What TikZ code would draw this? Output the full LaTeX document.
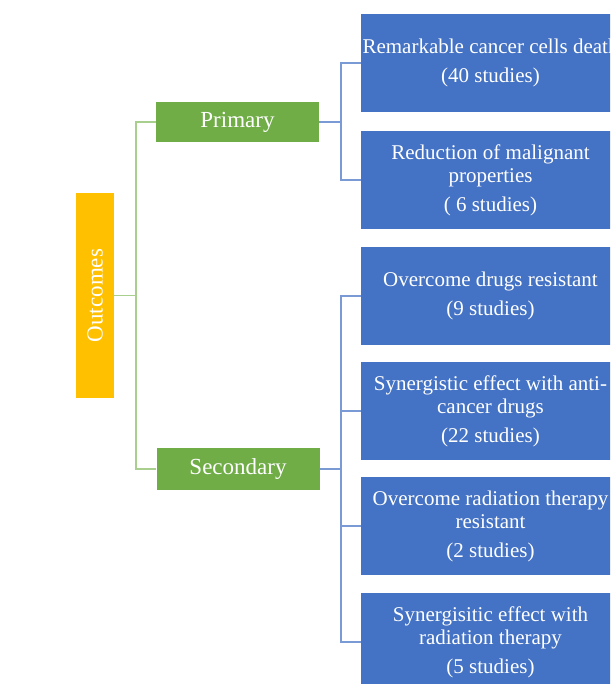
\documentclass[tikz,border=0pt]{standalone}
\usepackage{fontspec}
\setmainfont{Liberation Serif}
\definecolor{orangebox}{HTML}{FFC000}
\definecolor{greenbox}{HTML}{70AD47}
\definecolor{bluebox}{HTML}{4472C4}
\definecolor{greenline}{HTML}{A9CF8F}
\definecolor{blueline}{HTML}{7A9AD6}
\begin{document}
\begin{tikzpicture}[x=1pt,y=-1pt,
  bluebox/.style={fill=bluebox, draw=none, text=white, minimum width=259pt, minimum height=98pt,
    inner sep=0pt, align=center, font=\fontsize{21}{23.5}\selectfont},
  greenlbl/.style={fill=greenbox, draw=none, text=white, minimum width=163pt, inner sep=0pt,
    font=\fontsize{23}{26}\selectfont},
  gline/.style={draw=greenline, line width=1.5pt},
  bline/.style={draw=blueline, line width=1.5pt}]
\clip (0,0) rectangle (610,684);
\fill[white] (0,0) rectangle (610,684);

\node[fill=orangebox, minimum width=38pt, minimum height=205pt, inner sep=0pt, text=white,
  font=\fontsize{23}{26}\selectfont] (out) at (95,295.5) {\rotatebox{90}{Outcomes}};
\node[greenlbl, minimum height=40pt] (pri) at (237.5,122) {Primary};
\node[greenlbl, minimum height=42pt] (sec) at (238,469) {Secondary};

\node[bluebox] (b1) at (490.5,63) {Remarkable cancer cells death\\[6pt](40 studies)};
\node[bluebox] (b2) at (490.5,180) {Reduction of malignant\\properties\\[5pt]( 6 studies)};
\node[bluebox] (b3) at (490.5,296) {Overcome drugs resistant\\[6pt](9 studies)};
\node[bluebox] (b4) at (490.5,411) {Synergistic effect with anti-\\cancer drugs\\[5pt](22 studies)};
\node[bluebox] (b5) at (490.5,526) {Overcome radiation therapy\\resistant\\[5pt](2 studies)};
\node[bluebox] (b6) at (490.5,642) {Synergisitic effect with\\radiation therapy\\[5pt](5 studies)};

\coordinate (gx) at (136,0);
\coordinate (px) at (341,0);

\draw[gline] (pri.west) -- (pri.west -| gx) -- (sec.west -| gx) -- (sec.west);
\draw[gline] (out.east) -- (out.east -| gx);

\draw[bline] (pri.east) -- (pri.east -| px);
\draw[bline] (b1.west) -- (b1.west -| px) -- (b2.west -| px) -- (b2.west);

\draw[bline] (sec.east) -- (sec.east -| px);
\draw[bline] (b3.west) -- (b3.west -| px) -- (b6.west -| px) -- (b6.west);
\draw[bline] (b4.west) -- (b4.west -| px);
\draw[bline] (b5.west) -- (b5.west -| px);
\end{tikzpicture}
\end{document}
